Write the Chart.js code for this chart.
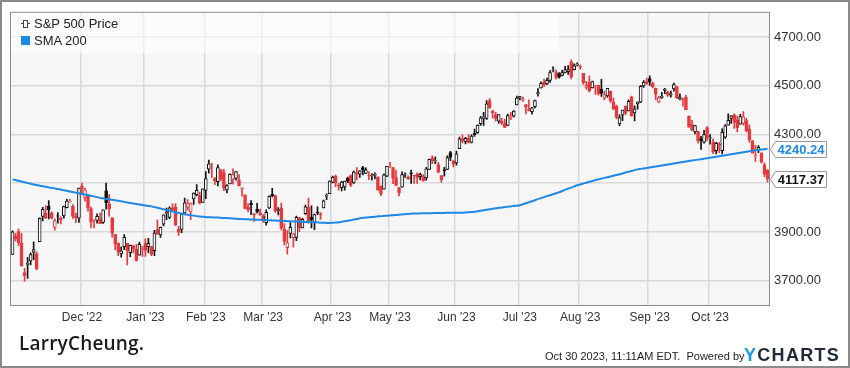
<!DOCTYPE html>
<html>
<head>
<meta charset="utf-8">
<script src="https://cdn.jsdelivr.net/npm/chart.js@4/dist/chart.umd.min.js"></script>
<style>
  body { margin: 0; background: #fff; }
  #wrap { position: relative; width: 850px; height: 368px; font-family: "Liberation Sans", Arial, sans-serif; color: #222; }
  #wrap canvas { position: absolute; left: 0; top: 0; }
  .txt { position: absolute; white-space: nowrap; }
</style>
</head>
<body>
<div id="wrap">
  <canvas id="chart" width="850" height="368"></canvas>
  <!-- legend -->
  <div style="position:absolute;left:21px;top:23px;width:9px;height:1px;background:#444"></div>
  <div style="position:absolute;left:23px;top:20px;width:3px;height:6px;border:1px solid #444;background:#fff"></div>
  <div class="txt" style="left:34px;top:16px;font-size:13px;line-height:16px">S&amp;P 500 Price</div>
  <div style="position:absolute;left:21px;top:36px;width:9px;height:9px;background:#1e88e5"></div>
  <div class="txt" style="left:34px;top:33px;font-size:13px;line-height:16px">SMA 200</div>
  <!-- footer -->
  <div class="txt" style="left:19px;top:332px;font-family:'Open Sans';font-size:19px;line-height:22px;font-weight:600;letter-spacing:0.2px;color:#1a1a1a">LarryCheung.</div>
  <div class="txt" style="left:545px;top:349px;font-size:11px;line-height:14px">Oct 30 2023, 11:11AM EDT.&nbsp; Powered by</div>
  <div class="txt" style="left:744px;top:345px;font-size:18px;line-height:20px;font-weight:bold;letter-spacing:1.3px;color:#1f2a36"><span style="color:#1a9be8">Y</span>CHARTS</div>
</div>
<script>
// S&P 500 daily candles, Oct 28 2022 - Oct 27 2023
const open = [
  3808, 3882, 3902, 3853, 3733, 3767, 3781, 3817, 3811, 3860,
  3964, 3978, 4006, 3977, 3919, 3966, 3956, 3966, 4000, 4023,
  4005, 3964, 3957, 4087, 4041, 4052, 3996, 3934, 3947, 3954,
  3939, 4069, 4015, 3958, 3890, 3853, 3810, 3840, 3853, 3815,
  3843, 3829, 3805, 3830, 3854, 3840, 3840, 3823, 3910, 3888,
  3932, 3977, 3960, 3999, 4003, 3911, 3910, 3978, 4002, 3982,
  4036, 4053, 4049, 4021, 4071, 4158, 4136, 4119, 4106, 4153,
  4144, 4073, 4097, 4117, 4120, 4114, 4078, 4052, 4001, 4018,
  3973, 3993, 3977, 3964, 3938, 3999, 4055, 4049, 3987, 3999,
  3912, 3835, 3894, 3876, 3878, 3959, 3917, 3975, 4002, 3960,
  3940, 3982, 3974, 3999, 4047, 4057, 4103, 4129, 4094, 4082,
  4085, 4121, 4131, 4101, 4141, 4137, 4164, 4140, 4131, 4132,
  4132, 4126, 4088, 4076, 4129, 4166, 4164, 4123, 4082, 4084,
  4136, 4125, 4143, 4133, 4139, 4127, 4127, 4122, 4157, 4204,
  4191, 4177, 4132, 4156, 4157, 4226, 4191, 4184, 4242, 4283,
  4271, 4285, 4268, 4305, 4308, 4345, 4366, 4366, 4440, 4396,
  4381, 4355, 4354, 4345, 4338, 4368, 4375, 4422, 4450, 4443,
  4423, 4405, 4394, 4415, 4467, 4492, 4514, 4508, 4522, 4563,
  4554, 4550, 4543, 4555, 4558, 4599, 4566, 4585, 4579, 4551,
  4494, 4514, 4491, 4498, 4502, 4487, 4450, 4459, 4479, 4434,
  4416, 4344, 4380, 4416, 4397, 4455, 4389, 4427, 4433, 4500,
  4518, 4530, 4511, 4491, 4434, 4452, 4481, 4474, 4462, 4487,
  4497, 4445, 4447, 4453, 4375, 4342, 4311, 4313, 4283, 4269,
  4329, 4285, 4270, 4234, 4260, 4234, 4289, 4339, 4366, 4381,
  4360, 4343, 4345, 4357, 4321, 4274, 4211, 4236, 4225, 4176,
  4153
];
const high = [
  3905, 3894, 3912, 3894, 3751, 3796, 3814, 3859, 3818, 3958,
  4001, 4008, 4029, 3983, 3954, 3980, 3962, 4006, 4034, 4034,
  4012, 3977, 4080, 4101, 4080, 4052, 4002, 3951, 3974, 3977,
  3991, 4101, 4053, 3959, 3890, 3855, 3839, 3889, 3853, 3846,
  3846, 3849, 3858, 3840, 3872, 3874, 3840, 3907, 3950, 3920,
  3970, 3998, 4003, 4015, 4017, 3923, 3973, 4039, 4033, 4020,
  4061, 4095, 4064, 4077, 4148, 4195, 4182, 4124, 4176, 4157,
  4157, 4095, 4139, 4159, 4148, 4136, 4082, 4052, 4017, 4029,
  3978, 4018, 3994, 3971, 3991, 4048, 4079, 4051, 4000, 4018,
  3934, 3906, 3938, 3894, 3965, 3959, 3956, 4010, 4039, 4007,
  3973, 4003, 3980, 4031, 4057, 4110, 4129, 4134, 4100, 4108,
  4109, 4125, 4135, 4150, 4164, 4152, 4169, 4163, 4148, 4139,
  4143, 4126, 4089, 4139, 4170, 4186, 4165, 4153, 4083, 4147,
  4143, 4130, 4154, 4133, 4143, 4142, 4136, 4165, 4199, 4213,
  4209, 4186, 4133, 4165, 4213, 4231, 4195, 4232, 4290, 4299,
  4289, 4300, 4299, 4322, 4340, 4375, 4391, 4439, 4448, 4400,
  4391, 4382, 4367, 4363, 4384, 4391, 4398, 4458, 4457, 4454,
  4423, 4443, 4412, 4442, 4489, 4517, 4528, 4532, 4563, 4578,
  4565, 4555, 4564, 4580, 4583, 4607, 4590, 4595, 4585, 4551,
  4519, 4540, 4520, 4503, 4503, 4527, 4477, 4490, 4479, 4450,
  4421, 4381, 4401, 4418, 4443, 4458, 4418, 4434, 4501, 4522,
  4532, 4541, 4515, 4491, 4457, 4473, 4490, 4479, 4479, 4511,
  4498, 4467, 4449, 4461, 4377, 4358, 4338, 4313, 4293, 4317,
  4333, 4300, 4282, 4268, 4268, 4324, 4341, 4385, 4378, 4385,
  4377, 4383, 4394, 4367, 4340, 4276, 4256, 4255, 4225, 4184,
  4156
];
const low = [
  3808, 3863, 3844, 3759, 3698, 3709, 3765, 3786, 3744, 3860,
  3945, 3956, 3953, 3954, 3907, 3936, 3933, 3957, 3999, 4021,
  3956, 3938, 3939, 4053, 4026, 3985, 3918, 3917, 3936, 3934,
  3935, 3994, 3965, 3879, 3827, 3803, 3796, 3827, 3765, 3798,
  3814, 3780, 3805, 3800, 3800, 3815, 3803, 3803, 3890, 3878,
  3925, 3950, 3955, 3984, 3926, 3886, 3897, 3971, 3989, 3950,
  4013, 4048, 4015, 4021, 4037, 4141, 4123, 4094, 4089, 4111,
  4070, 4060, 4097, 4096, 4113, 4089, 4047, 3995, 3982, 3971,
  3943, 3977, 3968, 3939, 3928, 3996, 4044, 3980, 3970, 3908,
  3847, 3809, 3875, 3838, 3864, 3901, 3917, 3972, 3936, 3917,
  3909, 3971, 3951, 3999, 4033, 4057, 4101, 4086, 4072, 4068,
  4072, 4102, 4086, 4099, 4114, 4124, 4134, 4139, 4115, 4113,
  4118, 4072, 4049, 4076, 4127, 4164, 4098, 4090, 4048, 4084,
  4124, 4116, 4099, 4099, 4099, 4114, 4109, 4113, 4157, 4180,
  4180, 4142, 4103, 4129, 4156, 4193, 4167, 4174, 4242, 4266,
  4262, 4265, 4266, 4292, 4305, 4337, 4337, 4362, 4407, 4367,
  4355, 4346, 4341, 4328, 4336, 4361, 4372, 4422, 4442, 4436,
  4385, 4397, 4384, 4409, 4458, 4490, 4498, 4505, 4514, 4557,
  4527, 4532, 4541, 4553, 4547, 4528, 4565, 4582, 4569, 4506,
  4486, 4475, 4491, 4465, 4462, 4457, 4443, 4454, 4432, 4403,
  4364, 4336, 4357, 4382, 4397, 4375, 4356, 4404, 4431, 4494,
  4507, 4502, 4492, 4443, 4431, 4448, 4468, 4457, 4453, 4478,
  4447, 4442, 4417, 4402, 4330, 4316, 4303, 4265, 4239, 4265,
  4275, 4260, 4221, 4220, 4226, 4220, 4284, 4339, 4346, 4325,
  4311, 4343, 4339, 4311, 4269, 4224, 4190, 4226, 4183, 4127,
  4104
];
const close = [
  3901, 3872, 3856, 3760, 3720, 3771, 3807, 3828, 3749, 3956,
  3993, 3957, 3992, 3959, 3947, 3965, 3950, 4004, 4027, 4026,
  3964, 3958, 4080, 4077, 4072, 3999, 3941, 3934, 3964, 3934,
  3991, 4020, 3995, 3896, 3852, 3818, 3822, 3878, 3822, 3845,
  3829, 3783, 3849, 3840, 3824, 3853, 3808, 3895, 3892, 3919,
  3970, 3983, 3999, 3991, 3929, 3899, 3973, 4020, 4017, 4016,
  4060, 4071, 4018, 4077, 4119, 4180, 4136, 4111, 4164, 4118,
  4082, 4090, 4137, 4136, 4148, 4090, 4079, 3997, 3991, 4012,
  3970, 3982, 3970, 3951, 3981, 4046, 4048, 3986, 3992, 3918,
  3862, 3856, 3919, 3892, 3960, 3917, 3952, 4003, 3937, 3949,
  3971, 3978, 3971, 4028, 4051, 4109, 4125, 4101, 4090, 4105,
  4109, 4109, 4092, 4146, 4138, 4151, 4155, 4155, 4130, 4134,
  4137, 4072, 4056, 4135, 4169, 4168, 4120, 4091, 4061, 4136,
  4138, 4119, 4138, 4131, 4124, 4136, 4110, 4159, 4198, 4192,
  4193, 4146, 4115, 4151, 4205, 4206, 4180, 4221, 4282, 4274,
  4284, 4268, 4294, 4299, 4339, 4369, 4373, 4426, 4410, 4389,
  4366, 4382, 4348, 4329, 4378, 4377, 4396, 4450, 4456, 4447,
  4412, 4399, 4410, 4439, 4472, 4510, 4505, 4523, 4555, 4566,
  4535, 4536, 4555, 4567, 4567, 4537, 4582, 4589, 4577, 4513,
  4502, 4478, 4518, 4499, 4468, 4469, 4464, 4490, 4438, 4404,
  4370, 4370, 4400, 4388, 4436, 4376, 4406, 4433, 4498, 4515,
  4508, 4516, 4497, 4465, 4451, 4457, 4487, 4462, 4467, 4505,
  4450, 4454, 4444, 4402, 4330, 4320, 4337, 4274, 4275, 4300,
  4288, 4288, 4229, 4264, 4258, 4309, 4336, 4358, 4377, 4350,
  4328, 4374, 4373, 4315, 4278, 4224, 4217, 4248, 4187, 4137,
  4117.37
];
const sma200 = [
  4116, 4113, 4110, 4107, 4104, 4101, 4098, 4095,
  4093, 4090, 4088, 4086, 4083, 4081,
  4079, 4076, 4074, 4071, 4069, 4066, 4064, 4061, 4059, 4056, 4054,
  4051, 4049, 4046, 4043, 4040,
  4038, 4036, 4034, 4032, 4030, 4028, 4026, 4024, 4021, 4019, 4017,
  4015, 4013, 4011, 4009, 4007, 4005,
  4002, 3999, 3996, 3993, 3990,
  3987, 3984, 3981, 3978, 3976, 3973, 3971,
  3969, 3967, 3965, 3963,
  3962, 3961, 3960, 3960, 3959, 3959, 3958, 3957, 3957, 3956, 3955, 3954, 3953,
  3953, 3952, 3952, 3951, 3951, 3950, 3950, 3949, 3949, 3948, 3947, 3947, 3946, 3945,
  3945, 3944, 3944, 3943, 3943, 3942, 3942, 3941, 3941, 3940, 3940, 3939, 3938, 3938, 3937, 3937,
  3938, 3939, 3940, 3942, 3944, 3946, 3948, 3951, 3953, 3956,
  3958, 3959, 3960, 3961, 3962, 3964, 3965,
  3966, 3967, 3968, 3969, 3970, 3971, 3972, 3973, 3974, 3975, 3976,
  3976, 3976, 3977, 3977, 3977, 3977, 3978, 3978, 3978, 3978, 3979, 3979, 3979, 3979,
  3979, 3979, 3980, 3981, 3982, 3983, 3985,
  3987, 3989, 3991, 3993,
  3995, 3997, 3999, 4000, 4002, 4004, 4005, 4007, 4008, 4010,
  4014, 4018, 4022, 4026, 4030, 4035,
  4039, 4043, 4047, 4051, 4055, 4059, 4063,
  4068, 4073, 4078, 4082, 4087, 4092,
  4095, 4099, 4102, 4106, 4109, 4113, 4116,
  4119, 4122, 4125, 4128, 4131, 4134, 4137,
  4140, 4144, 4147, 4150, 4154, 4157,
  4159, 4161, 4163, 4165, 4167, 4169, 4171, 4173,
  4175, 4177, 4179, 4181, 4183, 4185, 4187, 4189, 4191, 4193, 4195, 4197, 4199, 4201, 4203, 4205,
  4207, 4209, 4211, 4213, 4215, 4217, 4219, 4221, 4223, 4225, 4227, 4229, 4231, 4233, 4235, 4237, 4239,
  4240, 4240.24
];
// first trading day of each month and its label
const monthStarts = [23, 44, 64, 83, 106, 125, 147, 168, 188, 211, 231];
const monthLabels = ["Dec '22", "Jan '23", "Feb '23", "Mar '23", "Apr '23", "May '23",
  "Jun '23", "Jul '23", "Aug '23", "Sep '23", "Oct '23"];
const yTicks = [3700, 3900, 4100, 4300, 4500, 4700];

const RED = '#e8383d';
const BLACK = '#111111';
const labels = close.map((_, i) => i);
const candleColor = close.map((c, i) => c >= (i ? close[i - 1] : open[i]) ? BLACK : RED);
const bodyFill = close.map((c, i) => c < open[i] ? candleColor[i] : '#ffffff');
const bodies = close.map((c, i) => [open[i], c]);
const wicks = close.map((c, i) => [low[i], high[i]]);

const framePlugin = {
  id: 'frame',
  beforeDraw(chart) {
    const { ctx, chartArea: a } = chart;
    ctx.save();
    ctx.fillStyle = '#ffffff';
    ctx.fillRect(0, 0, chart.width, chart.height);
    ctx.fillStyle = '#f6f6f6';
    ctx.fillRect(a.left, a.top, a.right - a.left, a.bottom - a.top);
    ctx.restore();
  },
  afterDatasetsDraw(chart) {
    const { ctx, chartArea: a } = chart;
    ctx.save();
    // legend backdrop
    ctx.fillStyle = 'rgba(255,255,255,0.55)';
    ctx.fillRect(a.left, a.top, 559 - a.left, 53 - a.top);
    ctx.restore();
  },
  afterDraw(chart) {
    const { ctx, chartArea: a } = chart;
    const y = chart.scales.y;
    ctx.save();
    ctx.strokeStyle = '#8c8c8c';
    ctx.lineWidth = 1;
    ctx.strokeRect(a.left - 0.5, a.top - 0.5, a.right - a.left + 1, a.bottom - a.top + 1);
    ctx.lineWidth = 2;
    ctx.strokeStyle = '#8a8a8a';
    ctx.strokeRect(1, 1, chart.width - 2, chart.height - 2);

    // last value flags
    const flags = [
      { v: sma200[sma200.length - 1], color: '#1e88e5' },
      { v: close[close.length - 1], color: '#111111' }
    ];
    flags.forEach(f => {
      const py = Math.round(y.getPixelForValue(f.v)) + 0.5;
      const x0 = a.right + 1.5, x1 = x0 + 5, x2 = 826.5, h = 8;
      ctx.beginPath();
      ctx.moveTo(x0, py);
      ctx.lineTo(x1, py - h);
      ctx.lineTo(x2, py - h);
      ctx.lineTo(x2, py + h);
      ctx.lineTo(x1, py + h);
      ctx.closePath();
      ctx.fillStyle = '#ffffff';
      ctx.fill();
      ctx.strokeStyle = '#999999';
      ctx.lineWidth = 1;
      ctx.stroke();
      ctx.fillStyle = f.color;
      ctx.font = 'bold 13px "Liberation Sans", Arial, sans-serif';
      ctx.textAlign = 'center';
      ctx.textBaseline = 'middle';
      ctx.fillText(f.v.toFixed(2), (x1 + x2) / 2, py + 1);
    });
    ctx.restore();
  }
};

new Chart(document.getElementById('chart'), {
  type: 'bar',
  data: {
    labels: labels,
    datasets: [
      {
        type: 'line',
        label: 'SMA 200',
        data: sma200,
        borderColor: '#1e88e5',
        borderWidth: 2,
        pointRadius: 0,
        cubicInterpolationMode: 'monotone',
        order: 0
      },
      {
        label: 'S&P 500 Price',
        data: bodies,
        backgroundColor: bodyFill,
        borderColor: candleColor,
        borderWidth: 1,
        borderSkipped: false,
        barThickness: 3,
        grouped: false,
        order: 1
      },
      {
        label: 'wicks',
        data: wicks,
        backgroundColor: candleColor,
        borderWidth: 0,
        barThickness: 1,
        grouped: false,
        order: 2
      }
    ]
  },
  options: {
    responsive: false,
    animation: false,
    layout: { padding: { left: 11, top: 11, right: 0, bottom: 0 } },
    plugins: { legend: { display: false }, tooltip: { enabled: false } },
    scales: {
      x: {
        offset: true,
        grid: {
          offset: true,
          drawTicks: false,
          lineWidth: 1.5,
          color: c => monthStarts.includes(c.index) ? '#d9d9d9' : 'rgba(0,0,0,0)'
        },
        border: { display: false },
        ticks: {
          autoSkip: false,
          maxRotation: 0,
          minRotation: 0,
          padding: 5,
          color: '#333',
          font: { family: '"Liberation Sans", Arial, sans-serif', size: 12 },
          callback: (v, i) => {
            const k = monthStarts.indexOf(i);
            return k >= 0 ? monthLabels[k] : '';
          }
        },
        afterFit: s => { s.height = 63; }
      },
      y: {
        position: 'right',
        min: 3600,
        max: 4800,
        afterBuildTicks: s => { s.ticks = yTicks.map(v => ({ value: v })); },
        grid: { drawTicks: false, color: '#d9d9d9', lineWidth: 1.5 },
        border: { display: false },
        ticks: {
          padding: 5,
          color: '#333',
          font: { family: '"Liberation Sans", Arial, sans-serif', size: 13 },
          callback: v => v === 4100 ? '' : v.toFixed(2)
        },
        afterFit: s => { s.width = 81; }
      }
    }
  },
  plugins: [framePlugin]
});
</script>
</body>
</html>
